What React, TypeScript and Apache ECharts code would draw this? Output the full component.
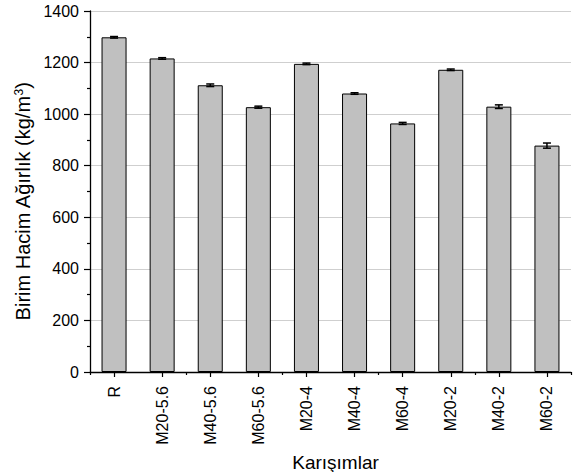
import React, { useEffect, useRef } from "react";
import * as echarts from "echarts";

const categories = ["R", "M20-5.6", "M40-5.6", "M60-5.6", "M20-4", "M40-4", "M60-4", "M20-2", "M40-2", "M60-2"];
const values = [1298, 1216, 1112, 1027, 1195, 1080, 964, 1172, 1029, 878];
const errors = [3, 3, 5, 4, 3, 3, 4, 3, 7, 10];
const yTicks = [0, 200, 400, 600, 800, 1000, 1200, 1400];
const xTitle = "Karışımlar";
const yTitle = "Birim Hacim Ağırlık (kg/m{sup|3})";

const FONT = "'Liberation Sans', Arial, sans-serif";

export default function App() {
  const ref = useRef<HTMLDivElement>(null);
  useEffect(() => {
    if (!ref.current) return;
    const chart = echarts.init(ref.current, null, { renderer: "svg" });
    const errData = categories.map((_, i) => [i, values[i], errors[i]]);
    chart.setOption({
      animation: false,
      backgroundColor: "#ffffff",
      textStyle: { fontFamily: FONT },
      grid: { left: 90, right: 3, top: 11, bottom: 100, containLabel: false, outerBoundsMode: "none" },
      xAxis: [
        {
          type: "category",
          data: categories,
          name: xTitle,
          nameLocation: "middle",
          nameGap: 79,
          nameTextStyle: { fontSize: 19, lineHeight: 19, color: "#000", fontFamily: FONT, padding: [0, 0, 0, 10] },
          axisLine: { show: true, lineStyle: { color: "#000", width: 1.3 } },
          axisTick: { show: true, alignWithLabel: true, length: 5, lineStyle: { color: "#000", width: 1.2 } },
          axisLabel: { rotate: 90, fontSize: 16, color: "#000", margin: 14, fontFamily: FONT },
          splitLine: { show: false },
        },
        {
          type: "category",
          data: categories,
          position: "bottom",
          axisLine: { show: false },
          axisTick: { show: true, alignWithLabel: false, length: 3, lineStyle: { color: "#000", width: 1.2 } },
          axisLabel: { show: false },
          splitLine: { show: false },
        },
      ],
      yAxis: {
        type: "value",
        min: yTicks[0],
        max: yTicks[yTicks.length - 1],
        interval: yTicks[1] - yTicks[0],
        name: yTitle,
        nameLocation: "middle",
        nameGap: 54,
        nameTextStyle: {
          fontSize: 20,
          color: "#000",
          fontFamily: FONT,
          padding: [0, 20, 0, 0],
          rich: { sup: { fontSize: 12, verticalAlign: "top", color: "#000", fontFamily: FONT } },
        },
        axisLine: { show: true, lineStyle: { color: "#000", width: 1.3 } },
        axisTick: { show: true, length: 6, lineStyle: { color: "#000", width: 1.2 } },
        minorTick: { show: true, splitNumber: 2, length: 3, lineStyle: { color: "#000", width: 1.2 } },
        axisLabel: { fontSize: 16, color: "#000", margin: 11, fontFamily: FONT, formatter: (v: number) => String(v) },
        splitLine: { show: true, lineStyle: { color: "#cfcfcf", width: 1 } },
      },
      series: [
        {
          type: "bar",
          data: values,
          barWidth: "52%",
          itemStyle: { color: "#c0c0c0", borderColor: "#000", borderWidth: 1 },
          z: 2,
        },
        {
          type: "custom",
          data: errData,
          z: 5,
          renderItem: (params: any, api: any) => {
            const x = api.value(0);
            const y = api.value(1);
            const e = api.value(2);
            const top = api.coord([x, y + e]);
            const bot = api.coord([x, y - e]);
            const hw = 4;
            const style = { stroke: "#000", lineWidth: 1.5 };
            return {
              type: "group",
              children: [
                { type: "line", shape: { x1: top[0], y1: top[1], x2: bot[0], y2: bot[1] }, style },
                { type: "line", shape: { x1: top[0] - hw, y1: top[1], x2: top[0] + hw, y2: top[1] }, style },
                { type: "line", shape: { x1: bot[0] - hw, y1: bot[1], x2: bot[0] + hw, y2: bot[1] }, style },
              ],
            };
          },
        },
      ],
    });
    return () => chart.dispose();
  }, []);
  return <div ref={ref} style={{ position: "fixed", left: 0, top: 0, width: 574, height: 472 }} />;
}
